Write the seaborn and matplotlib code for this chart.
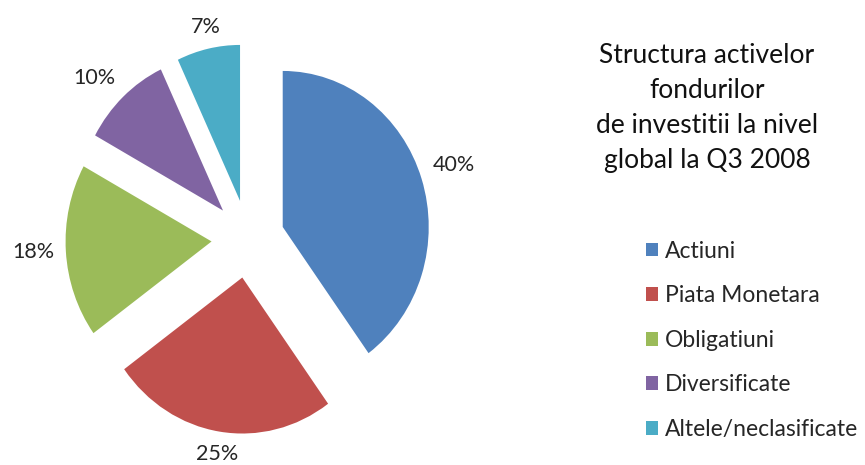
import numpy as np
import matplotlib
matplotlib.use('Agg')
import matplotlib.pyplot as plt
import matplotlib.patches as mpatches
import seaborn as sns

# --- data ---
categories = ['Actiuni', 'Piata Monetara', 'Obligatiuni', 'Diversificate', 'Altele/neclasificate']
shares = [40, 25, 18, 10, 7]
colors = ['#4F81BD', '#C0504D', '#9BBB59', '#8064A2', '#4BACC6']
title = 'Structura activelor\nfondurilor\nde investitii la nivel\nglobal la Q3 2008'

sns.set_theme(style='white')
plt.rcParams['font.family'] = ['Lato', 'DejaVu Sans']
palette = sns.color_palette(colors)

fig = plt.figure(figsize=(8.65, 4.65), dpi=100)
W, H = 865, 465
Rx, Ry = 146, 156  # the source picture is slightly squashed horizontally
cx, cy = 248, 465 - 239
lim = 1.6
ax = fig.add_axes([(cx - lim * Rx) / W, (cy - lim * Ry) / H, 2 * lim * Rx / W, 2 * lim * Ry / H])

explode = 0.25
wedges, _ = ax.pie(shares, colors=palette, startangle=90, counterclock=False,
                   explode=[explode] * len(shares), radius=1,
                   wedgeprops=dict(linewidth=0))
ax.set_xlim(-lim, lim)
ax.set_ylim(-lim, lim)
ax.set_aspect('auto')
ax.axis('off')

# percentage labels, outside each exploded slice
total = sum(shares)
start = 0.0
for v in shares:
    mid = np.deg2rad((start + v / 2) / total * 360)
    dx, dy = np.sin(mid), np.cos(mid)
    r = 1 + explode + 0.08
    ha = 'left' if dx > 0.3 else ('right' if dx < -0.3 else 'center')
    va = 'bottom' if dy > 0.3 else ('top' if dy < -0.3 else 'center')
    ax.text(r * dx, r * dy, f'{v / total * 100:.0f}%', ha=ha, va=va,
            fontsize=15.5, color='#262626')
    start += v

fig.text(707 / W, 1 - 108 / H, title, ha='center', va='center',
         fontsize=19, linespacing=1.5, color='#111111')

handles = [mpatches.Patch(facecolor=c, edgecolor='none', label=l) for c, l in zip(palette, categories)]
fig.legend(handles=handles, loc='upper left', bbox_to_anchor=(625 / W, 1 - 220 / H),
           frameon=False, fontsize=16.5, labelspacing=1.03, handlelength=0.55,
           handleheight=0.55, handletextpad=0.3, labelcolor='#262626')

fig.savefig('out.png', dpi=100, facecolor='white')
